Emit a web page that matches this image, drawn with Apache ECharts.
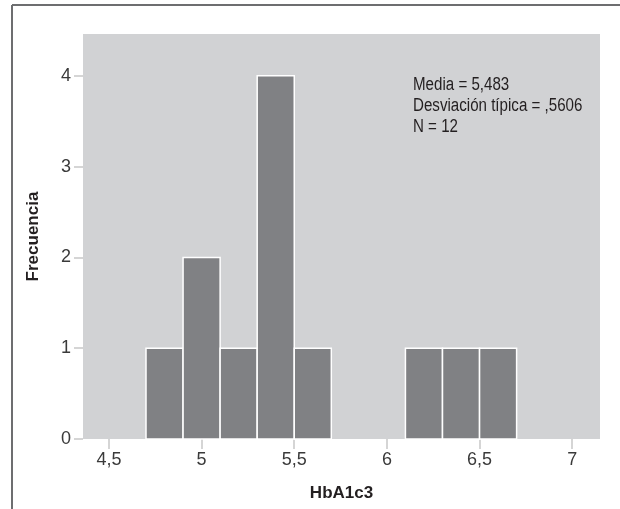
<!DOCTYPE html>
<html>
<head>
<meta charset="utf-8">
<script src="https://cdn.jsdelivr.net/npm/echarts@6/dist/echarts.min.js"></script>
<style>
  html, body { margin: 0; padding: 0; background: #fff; }
  #chart { width: 620px; height: 509px; }
</style>
</head>
<body>
<div id="chart"></div>
<script>
// bins of HbA1c3 (start, end) and their counts
const binStart = [4.7, 4.9, 5.1, 5.3, 5.5, 6.1, 6.3, 6.5];
const binEnd = [4.9, 5.1, 5.3, 5.5, 5.7, 6.3, 6.5, 6.7];
const counts = [1, 2, 1, 4, 1, 1, 1, 1];
const xTicks = [4.5, 5, 5.5, 6, 6.5, 7];
const yTicks = [0, 1, 2, 3, 4];
const statLines = ['Media = 5,483', 'Desviación típica = ,5606', 'N = 12'];

const font = '"Liberation Sans", Arial, sans-serif';
const chart = echarts.init(document.getElementById('chart'));

const data = binStart.map((s, i) => [s, binEnd[i], counts[i]]);

chart.setOption({
    animation: false,
    grid: {
        left: 83, right: 20, top: 34, bottom: 70,
        show: true,
        backgroundColor: '#d1d2d4',
        borderWidth: 0,
    },
    xAxis: {
        type: 'value',
        min: 4.36,
        max: 7.15,
        name: 'HbA1c3',
        nameLocation: 'middle',
        nameGap: 46,
        nameTextStyle: { fontFamily: font, fontSize: 17, fontWeight: 'bold', color: '#231f20' },
        axisLine: { show: false },
        splitLine: { show: false },
        axisTick: { show: true, length: 10, customValues: xTicks, lineStyle: { color: '#c8c8c8', width: 1.5 } },
        axisLabel: {
            customValues: xTicks,
            margin: 12,
            fontFamily: font, fontSize: 18, color: '#3a3a3a',
            formatter: v => String(v).replace('.', ','),
        },
    },
    yAxis: {
        type: 'value',
        min: 0,
        max: 4.46,
        name: 'Frecuencia',
        nameLocation: 'middle',
        nameGap: 41,
        nameTextStyle: { fontFamily: font, fontSize: 17, fontWeight: 'bold', color: '#231f20' },
        axisLine: { show: false },
        splitLine: { show: false },
        axisTick: { show: true, length: 9, customValues: yTicks, lineStyle: { color: '#c8c8c8', width: 1.5 } },
        axisLabel: { customValues: yTicks, margin: 12, fontFamily: font, fontSize: 18, color: '#3a3a3a' },
    },
    series: [{
        type: 'custom',
        data: data,
        encode: { x: [0, 1], y: 2 },
        renderItem: (params, api) => {
            const p0 = api.coord([api.value(0), 0]);
            const p1 = api.coord([api.value(1), api.value(2)]);
            return {
                type: 'rect',
                shape: { x: p0[0], y: p1[1], width: p1[0] - p0[0], height: p0[1] - p1[1] },
                style: { fill: '#808184', stroke: '#ffffff', lineWidth: 1.5 },
            };
        },
    }],
    graphic: [
        { type: 'line', shape: { x1: 12, y1: 5, x2: 620, y2: 5 }, style: { stroke: '#6d6e70', lineWidth: 2 } },
        { type: 'line', shape: { x1: 12, y1: 5, x2: 12, y2: 509 }, style: { stroke: '#6d6e70', lineWidth: 2 } },
        {
            type: 'text', x: 413, y: 75, scaleX: 0.84,
            style: {
                text: statLines.join('\n'),
                font: '18px "Liberation Sans", Arial, sans-serif',
                lineHeight: 21,
                fill: '#231f20',
            },
        },
    ],
});
</script>
</body>
</html>
